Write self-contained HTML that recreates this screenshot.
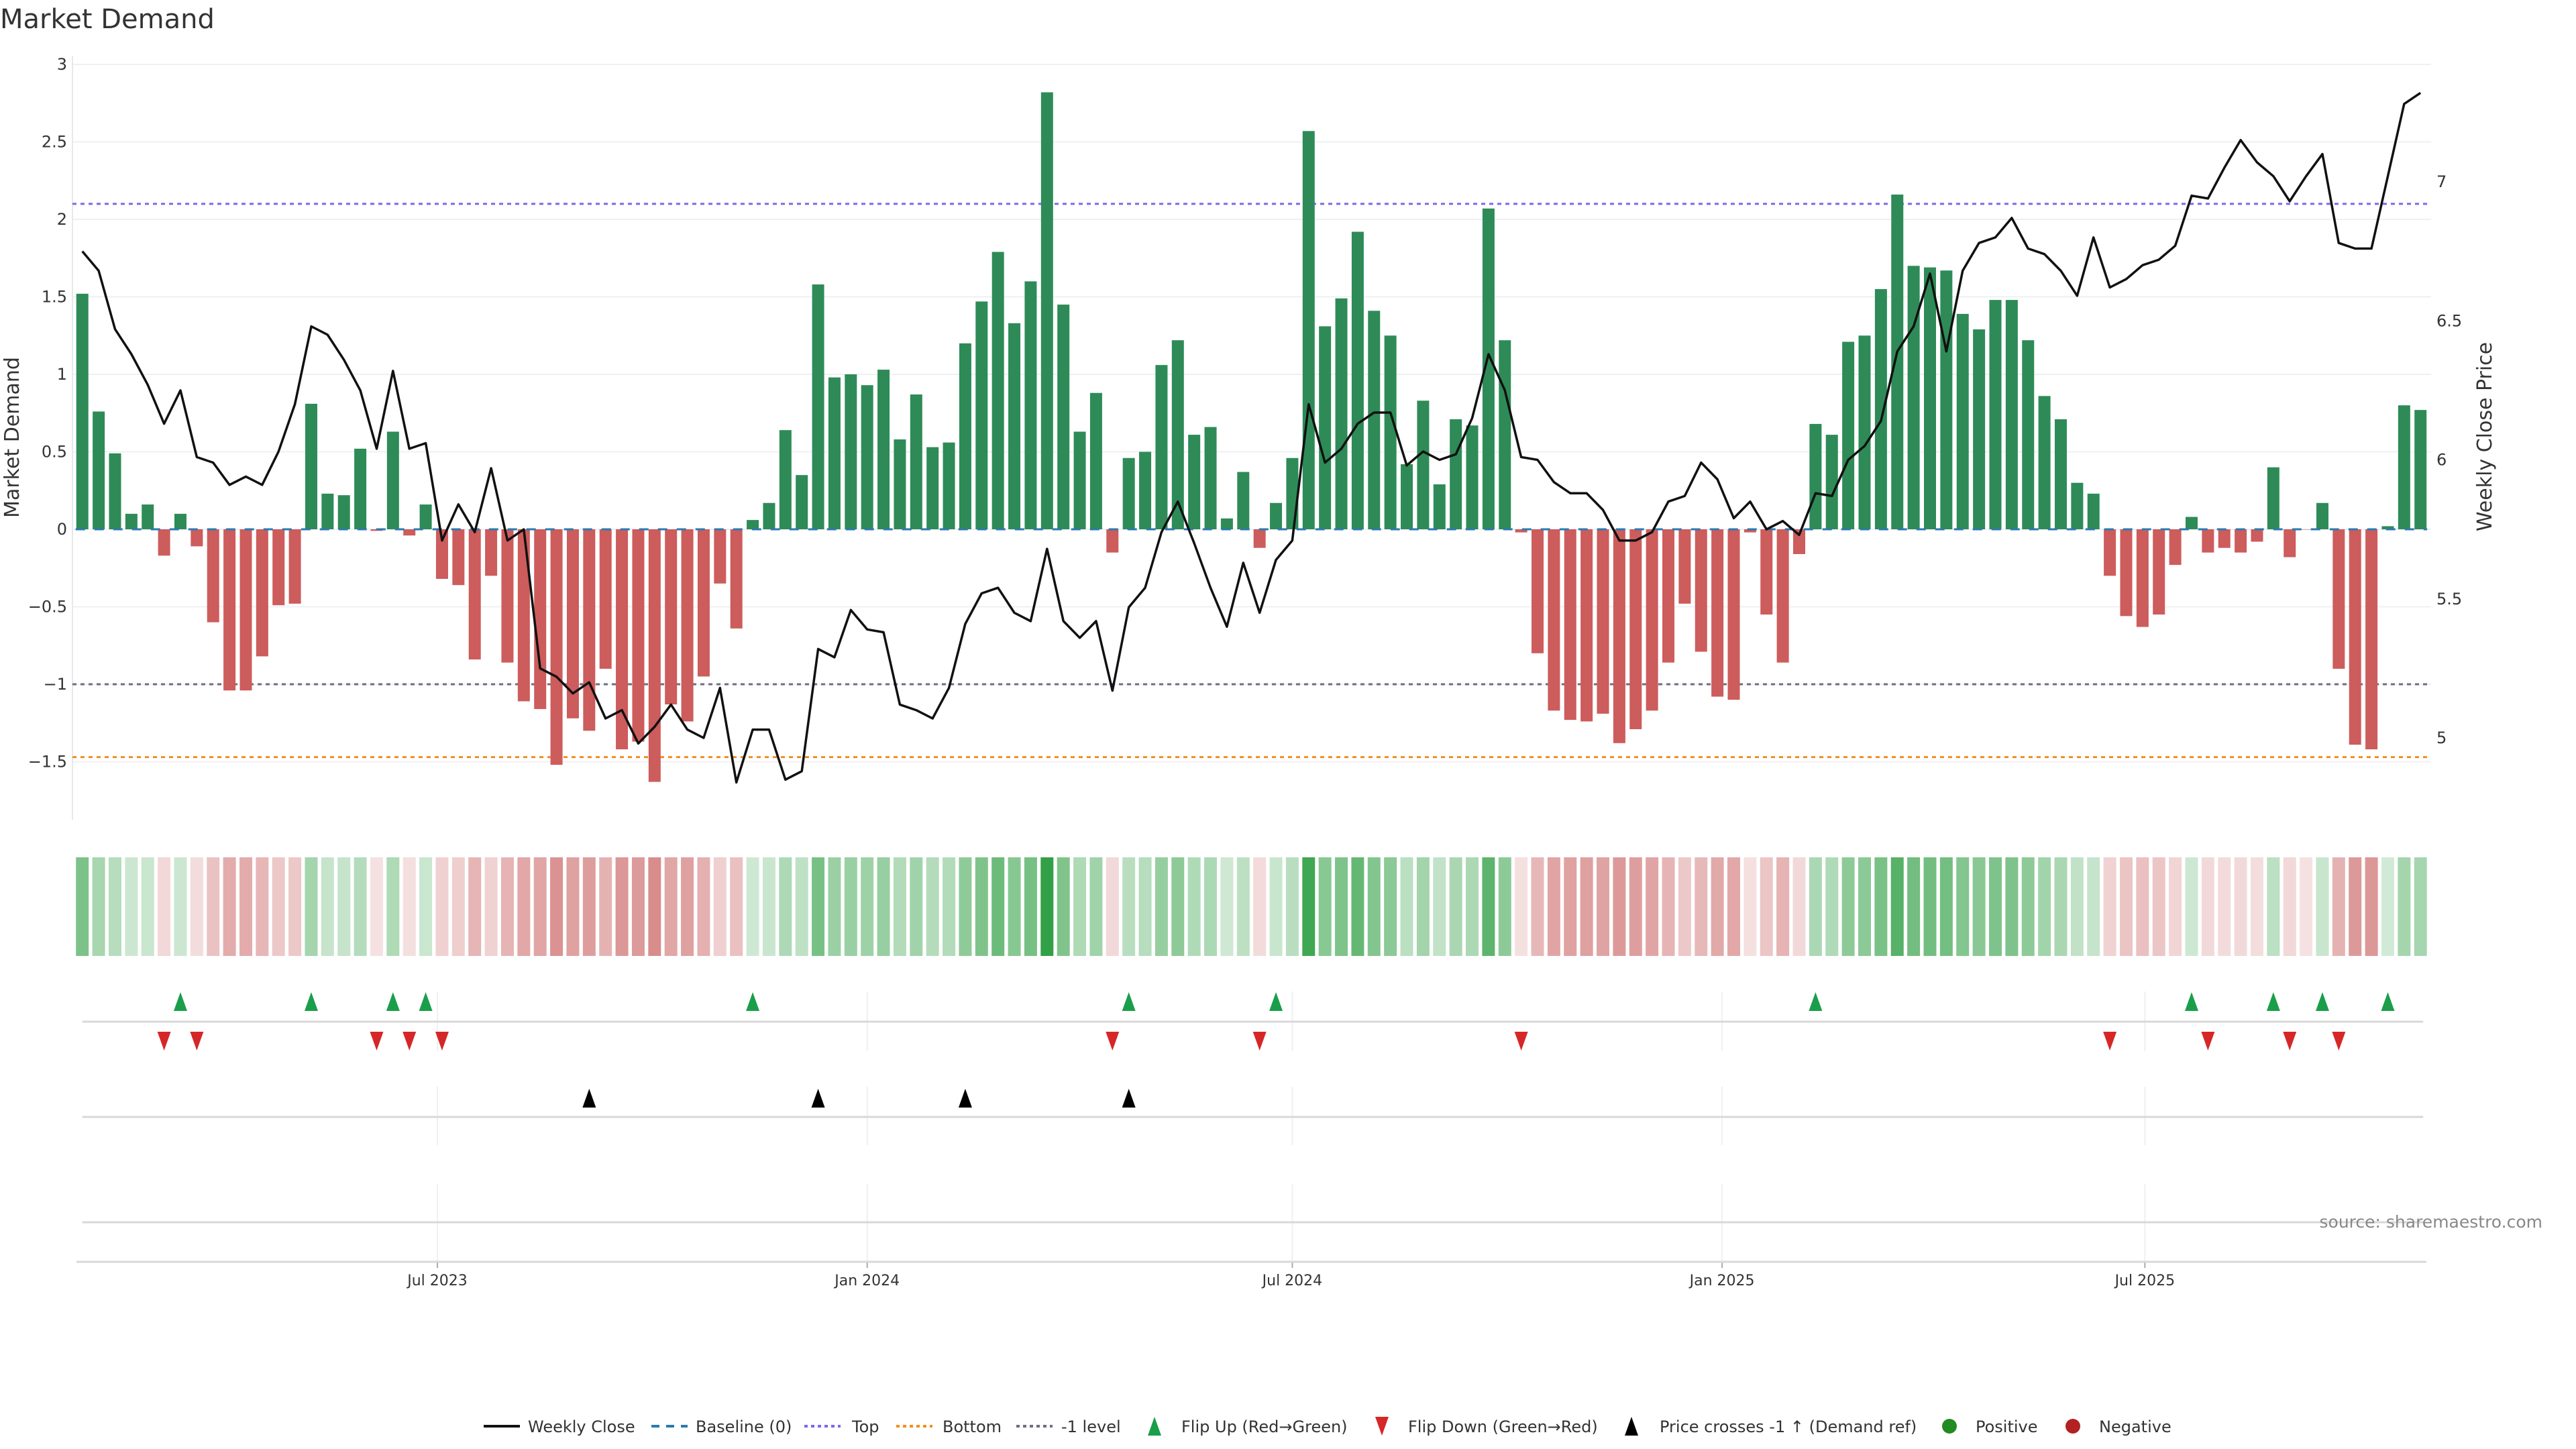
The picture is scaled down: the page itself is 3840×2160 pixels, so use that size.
<!DOCTYPE html>
<html><head><meta charset="utf-8"><style>
html,body{margin:0;padding:0;background:#fff;}
svg{display:block;font-family:"DejaVu Sans","Liberation Sans",sans-serif;}
</style></head><body>
<svg id="chart" width="3840" height="2160" viewBox="0 0 3840 2160" xmlns="http://www.w3.org/2000/svg">
<rect width="3840" height="2160" fill="#fff"/>
<text x="0" y="42" font-size="40" fill="#333">Market Demand</text>
<g id="grid"></g><g id="refs"></g><g id="bars"></g><g id="line"></g><g id="heat"></g><g id="panels"></g><g id="axes"></g>
<text transform="translate(28,652) rotate(-90)" text-anchor="middle" font-size="30" fill="#333">Market Demand</text>
<text transform="translate(3714,651) rotate(-90)" text-anchor="middle" font-size="30" fill="#333">Weekly Close Price</text>
<text x="3790" y="1830" text-anchor="end" font-size="25" fill="#888">source: sharemaestro.com</text>
<g id="legend"></g>
</svg>
<script>
const demand = [1.52,0.76,0.49,0.10,0.16,-0.17,0.10,-0.11,-0.60,-1.04,-1.04,-0.82,-0.49,-0.48,0.81,0.23,0.22,0.52,-0.01,0.63,-0.04,0.16,-0.32,-0.36,-0.84,-0.30,-0.86,-1.11,-1.16,-1.52,-1.22,-1.30,-0.90,-1.42,-1.37,-1.63,-1.13,-1.24,-0.95,-0.35,-0.64,0.06,0.17,0.64,0.35,1.58,0.98,1.00,0.93,
1.03,0.58,0.87,0.53,0.56,1.20,1.47,1.79,1.33,1.60,2.82,1.45,0.63,0.88,-0.15,0.46,0.50,1.06,1.22,0.61,0.66,0.07,0.37,-0.12,0.17,0.46,2.57,1.31,1.49,1.92,1.41,1.25,0.42,0.83,0.29,0.71,0.67,2.07,1.22,-0.02,-0.80,-1.17,-1.23,-1.24,-1.19,-1.38,-1.29,-1.17,-0.86,-0.48,-0.79,-1.08,-1.10,
-0.02,-0.55,-0.86,-0.16,0.68,0.61,1.21,1.25,1.55,2.16,1.70,1.69,1.67,1.39,1.29,1.48,1.48,1.22,0.86,0.71,0.30,0.23,-0.30,-0.56,-0.63,-0.55,-0.23,0.08,-0.15,-0.12,-0.15,-0.08,0.40,-0.18,0,0.17,-0.90,-1.39,-1.42,0.02,0.80,0.77];
const price = [6.75,6.68,6.47,6.38,6.27,6.13,6.25,6.01,5.99,5.91,5.94,5.91,6.03,6.20,6.48,6.45,6.36,6.25,6.04,6.32,6.04,6.06,5.71,5.84,5.74,5.97,5.71,5.75,5.25,5.22,5.16,5.20,5.07,5.10,4.98,5.04,5.12,5.03,5.00,5.18,4.84,5.03,5.03,4.85,4.88,5.32,5.29,5.46,5.39,
5.38,5.12,5.10,5.07,5.18,5.41,5.52,5.54,5.45,5.42,5.68,5.42,5.36,5.42,5.17,5.47,5.54,5.74,5.85,5.70,5.54,5.40,5.63,5.45,5.64,5.71,6.20,5.99,6.04,6.13,6.17,6.17,5.98,6.03,6.00,6.02,6.15,6.38,6.25,6.01,6.00,5.92,5.88,5.88,5.82,5.71,5.71,5.74,5.85,5.87,5.99,5.93,5.79,
5.85,5.75,5.78,5.73,5.88,5.87,6.00,6.05,6.14,6.39,6.48,6.67,6.39,6.68,6.78,6.80,6.87,6.76,6.74,6.68,6.59,6.80,6.62,6.65,6.70,6.72,6.77,6.95,6.94,7.05,7.15,7.07,7.02,6.93,7.02,7.10,6.78,6.76,6.76,7.02,7.28,7.32];
const startDate = "2023-01-30";
const yTicks = [3,2.5,2,1.5,1,0.5,0,-0.5,-1,-1.5];
const yTickLabels = ["3","2.5","2","1.5","1","0.5","0","\u22120.5","\u22121","\u22121.5"];
const priceTicks = [7,6.5,6,5.5,5];
const priceTickLabels = ["7","6.5","6","5.5","5"];
const xTickDates = ["2023-07-01","2024-01-01","2024-07-01","2025-01-01","2025-07-01"];
const xTickLabels = ["Jul 2023","Jan 2024","Jul 2024","Jan 2025","Jul 2025"];
const topLevel = 2.1, bottomLevel = -1.47, minusLevel = -1;

const NS="http://www.w3.org/2000/svg";
function mk(tag, attrs, parent){const e=document.createElementNS(NS,tag);for(const k in attrs)e.setAttribute(k,attrs[k]);if(parent)parent.appendChild(e);return e;}
const DAY=86400000, T0=Date.parse("2023-07-01");
function xd(ds){return 652+(Date.parse(ds)-T0)/DAY*3.482;}
const dates=[];const s0=Date.parse(startDate);
for(let i=0;i<demand.length;i++){dates.push(new Date(s0+i*7*DAY).toISOString().slice(0,10));}
function xi(i){return xd(dates[i]);}
function yv(v){return 789-231*v;}
function yp(p){return 271+(7-p)*414.5;}
const L=108,R=3624;

const grid=document.getElementById('grid');
yTicks.forEach((t,k)=>{
  const g=mk('line',{x1:L,x2:R,y1:yv(t),y2:yv(t),stroke:'#eef0f3','stroke-width':2},grid);
  
  const tx=mk('text',{x:L-8,y:yv(t)+8,'text-anchor':'end','font-size':24,fill:'#333'},grid);
  tx.textContent=yTickLabels[k];
  
});
priceTicks.forEach((t,k)=>{
  const tx=mk('text',{x:3632,y:yp(t)+8,'font-size':24,fill:'#333'},grid);
  tx.textContent=priceTickLabels[k];
  
});
const ax=mk('line',{x1:L,x2:L,y1:83,y2:1222,stroke:'#e6e8eb','stroke-width':2},grid);


const bars=document.getElementById('bars');
demand.forEach((v,i)=>{
  const x=xi(i), y0=yv(0), y1=yv(v);
  const r=mk('rect',{x:x-9,y:Math.min(y0,y1),width:18,height:Math.max(Math.abs(y1-y0),0.5),fill:v>0?'#2e8b57':'#cd5c5c'},bars);
  
});

const refs=document.getElementById('refs');
[[topLevel,'#7b68ee','6 6','top-line'],[minusLevel,'#6e6e80','6 6','minus-one-line'],[bottomLevel,'#f28e1c','6 6','bottom-line']].forEach(a=>{
  const l=mk('line',{x1:L,x2:R,y1:yv(a[0]),y2:yv(a[0]),stroke:a[1],'stroke-width':3,'stroke-dasharray':a[2]},refs);
  
});
const bl=mk('line',{x1:xi(0)-10,x2:xi(demand.length-1)+10,y1:yv(0),y2:yv(0),stroke:'#2a7ab0','stroke-width':3,'stroke-dasharray':'14 14'},document.getElementById('line'));


const pts=price.map((p,i)=>xi(i).toFixed(1)+','+yp(p).toFixed(1)).join(' ');
const pl=mk('polyline',{points:pts,fill:'none',stroke:'#111','stroke-width':3.5,'stroke-linejoin':'round'},document.getElementById('line'));


const heat=document.getElementById('heat');
demand.forEach((v,i)=>{
  let fill;
  if(v>0){const a=0.22+0.78*Math.abs(v)/2.82;fill=`rgb(${Math.round(255-a*205)},${Math.round(255-a*95)},${Math.round(255-a*185)})`;}
  else{const a=0.18+0.52*Math.abs(v)/1.64;fill=`rgb(${Math.round(255-a*55)},${Math.round(255-a*165)},${Math.round(255-a*165)})`;}
  const r=mk('rect',{x:xi(i)-9.5,y:1278,width:19,height:147,fill:fill},heat);
  
});

const pan=document.getElementById('panels');
xTickDates.forEach((d,k)=>{
  const x=xd(d);
  [[1478,1567],[1620,1707],[1765,1883]].forEach(s=>{
    const g=mk('line',{x1:x,x2:x,y1:s[0],y2:s[1],stroke:'#eef0f3','stroke-width':2},pan);
    
  });
  const tk=mk('line',{x1:x,x2:x,y1:1881,y2:1890,stroke:'#aaa','stroke-width':2},pan);
  
  const t=mk('text',{x:x,y:1916,'text-anchor':'middle','font-size':22,fill:'#333'},pan);
  t.textContent=xTickLabels[k];
  
});
[1523,1665,1822].forEach(y=>{
  const l=mk('line',{x1:xi(0),x2:xi(demand.length-1)+4,y1:y,y2:y,stroke:'#d8d8d8','stroke-width':3},pan);
  
});
const xa=mk('line',{x1:114,x2:3617,y1:1881,y2:1881,stroke:'#d8d8d8','stroke-width':3},pan);


function tri(cx,cy,up,color,parent){
  const p=up?`${cx-10},${cy+14} ${cx+10},${cy+14} ${cx},${cy-14}`:`${cx-10},${cy-14} ${cx+10},${cy-14} ${cx},${cy+14}`;
  return mk('polygon',{points:p,fill:color},parent);
}
for(let i=1;i<demand.length;i++){
  const a=demand[i-1]>0,b=demand[i]>0;
  if(!a&&b){const t=tri(xi(i),1493,true,'#1a9e4a',pan);}
  if(a&&!b){const t=tri(xi(i),1552,false,'#d62728',pan);}
  const lvl=7-(yv(minusLevel)-271)/414.5;
  if(price[i-1]<lvl&&price[i]>=lvl){const t=tri(xi(i),1637,true,'#000',pan);}
}

const lg=document.getElementById('legend');const LY=2126;
function ltext(x,s){const t=mk('text',{x:x,y:LY+9,'font-size':24,fill:'#333'},lg);t.textContent=s;}
function lline(x1,x2,c,dash,w){const l=mk('line',{x1:x1,x2:x2,y1:LY,y2:LY,stroke:c,'stroke-width':w,'stroke-dasharray':dash},lg);}
lline(721,775,'#111','none',4);ltext(787,'Weekly Close');
lline(971,1025,'#2a7ab0','12 10',4);ltext(1037,'Baseline (0)');
lline(1199,1253,'#7b68ee','5 5',4);ltext(1270,'Top');
lline(1336,1390,'#f28e1c','5 5',4);ltext(1405,'Bottom');
lline(1515,1569,'#6e6e80','5 5',4);ltext(1582,'-1 level');
{const t=tri(1721,LY,true,'#1a9e4a',lg);}ltext(1761,'Flip Up (Red\u2192Green)');
{const t=tri(2060,LY,false,'#d62728',lg);}ltext(2099,'Flip Down (Green\u2192Red)');
{const t=tri(2432,LY,true,'#000',lg);}ltext(2474,'Price crosses -1 \u2191 (Demand ref)');
{const c=mk('circle',{cx:2906,cy:LY,r:11,fill:'#228b22'},lg);}ltext(2945,'Positive');
{const c=mk('circle',{cx:3090,cy:LY,r:11,fill:'#b22222'},lg);}ltext(3129,'Negative');
</script>
</body></html>
